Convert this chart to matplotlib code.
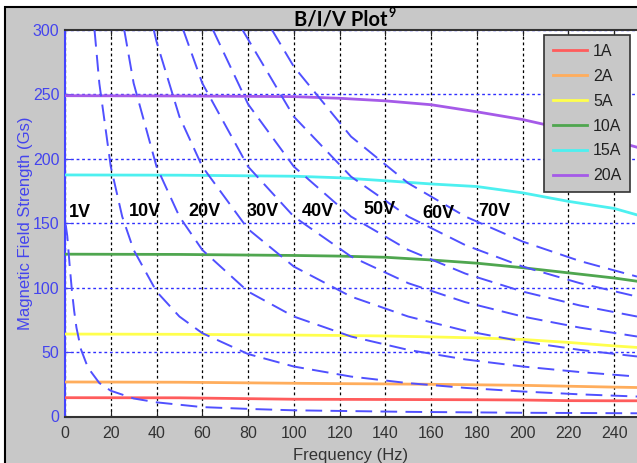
###############################################################################
# B/I/V plot: field strength vs frequency, constant current and voltage lines
###############################################################################

import matplotlib
matplotlib.use("Agg")
import matplotlib.pyplot as plt
from matplotlib.patches import Rectangle

# Data ------------------------------------------------------------------------

cur_labels = ["1A", "2A", "5A", "10A", "15A", "20A"]
cur_colors = ["#ff5c5c", "#ffad5c", "#ffff4d", "#4fa64f", "#4df0f0", "#a55ae8"]
cur_freq = [0, 50, 100, 120, 140, 160, 180, 200, 220, 240, 250]
b_1a = [14.6, 14.5, 13.4, 13.3, 13.2, 13.1, 13.0, 12.8, 12.3, 12.2, 12.2]
b_2a = [26.8, 26.6, 25.8, 25.5, 25.3, 25.0, 24.6, 24.2, 23.5, 22.8, 22.5]
b_5a = [64.0, 63.8, 63.2, 62.9, 62.5, 61.8, 61.0, 59.8, 57.5, 54.8, 53.6]
b_10a = [126.0, 125.8, 125.0, 124.5, 123.6, 121.5, 119.0, 115.5, 111.5, 107.5, 105.0]
b_15a = [187.5, 187.3, 186.5, 185.3, 183.0, 180.5, 178.5, 173.6, 167.0, 161.5, 156.5]
b_20a = [249.0, 248.8, 248.3, 247.0, 245.0, 242.0, 236.5, 230.5, 222.5, 214.0, 209.0]

v1_f = [0.3, 1, 2, 3, 4, 5, 7, 10, 15, 20, 30, 40, 60, 80, 100, 150, 200, 250]
v1_b = [149, 140, 118, 98, 82, 69, 52, 38, 26, 20, 14, 11, 7.3, 5.9, 4.8, 3.6, 2.9, 2.5]
v10_f = [12.9, 15, 20, 25, 30, 40, 50, 60, 80, 100, 125, 150, 175, 200, 225, 250]
v10_b = [300, 258.7, 194, 155.2, 129.3, 97, 77.6, 64.7, 48.5, 38.8, 31, 25.9, 22.2, 19.4, 17.2, 15.5]
v20_f = [25.9, 30, 40, 50, 60, 80, 100, 125, 150, 175, 200, 225, 250]
v20_b = [300, 258.7, 194, 155.2, 129.3, 97, 77.6, 62.1, 51.7, 44.3, 38.8, 34.5, 31.0]
v30_f = [38.8, 40, 50, 60, 80, 100, 125, 150, 175, 200, 225, 250]
v30_b = [300, 291, 232.8, 194, 145.5, 116.4, 93.1, 77.6, 66.5, 58.2, 51.7, 46.6]
v40_f = [51.7, 60, 80, 100, 125, 150, 175, 200, 225, 250]
v40_b = [300, 258.7, 194, 155.2, 124.2, 103.5, 88.7, 77.6, 69.0, 62.1]
v50_f = [64.7, 80, 100, 125, 150, 175, 200, 225, 250]
v50_b = [300, 242.5, 194, 155.2, 129.3, 110.9, 97, 86.2, 77.6]
v60_f = [77.6, 100, 125, 150, 175, 200, 225, 250]
v60_b = [300, 232.8, 186.2, 155.2, 133, 116.4, 103.5, 93.1]
v70_f = [90.5, 100, 125, 150, 175, 200, 225, 250]
v70_b = [300, 271.6, 217.3, 181.1, 155.2, 135.8, 120.7, 108.6]

v_labels = ["1V", "10V", "20V", "30V", "40V", "50V", "60V", "70V"]
v_label_f = [6.3, 34.8, 61.0, 86.2, 110.6, 137.6, 163.2, 187.5]
v_label_b = [158.0, 159.5, 159.5, 159.5, 159.5, 160.5, 157.5, 159.5]

# Figure ----------------------------------------------------------------------

W, H = 637, 463
plt.rcParams["font.family"] = ["Liberation Sans", "DejaVu Sans"]
plt.rcParams["lines.scale_dashes"] = False

fig = plt.figure(figsize=(W / 100, H / 100), dpi=100, facecolor="white")
bg = Rectangle((5 / W, -0.1), 1.2, 1.1 - 7 / H, transform=fig.transFigure,
               facecolor="#c8c8c8", edgecolor="black", lw=1.5, zorder=-10)
fig.patches.append(bg)

ax = fig.add_axes([65 / W, 1 - 416.5 / H, 572 / W, 386.5 / H])
ax.set_facecolor("white")

cur_series = [b_1a, b_2a, b_5a, b_10a, b_15a, b_20a]
handles = []
for b, c, lab in zip(cur_series, cur_colors, cur_labels):
    h, = ax.plot(cur_freq, b, color=c, lw=2.0, label=lab, zorder=3)
    handles.append(h)

dash_blue = "#5050ff"
volt_f = [v1_f, v10_f, v20_f, v30_f, v40_f, v50_f, v60_f, v70_f]
volt_b = [v1_b, v10_b, v20_b, v30_b, v40_b, v50_b, v60_b, v70_b]
for f, b in zip(volt_f, volt_b):
    ax.plot(f, b, color=dash_blue, lw=1.4, linestyle=(0, (12, 6)), zorder=4)

for lab, f, b in zip(v_labels, v_label_f, v_label_b):
    ax.text(f, b, lab, ha="center", va="center", fontsize=13, fontweight="bold",
            color="black", zorder=5)

ax.set_xlim(0, 250)
ax.set_ylim(0, 300)
ax.set_xticks(range(0, 241, 20))
ax.set_yticks(range(0, 301, 50))

ax.xaxis.grid(True, color="black", linestyle=(0, (2, 2)), lw=0.9)
ax.yaxis.grid(True, color="#2f2fff", linestyle=(0, (2, 2)), lw=1.0)
ax.set_axisbelow(True)

ax.tick_params(axis="x", direction="in", length=4, top=True, colors="#222222",
               labelsize=11.5, pad=7)
ax.tick_params(axis="y", direction="in", length=4, colors="#4444ee",
               labelsize=11.5, pad=4)
for lbl in ax.get_xticklabels():
    lbl.set_color("#333333")

ax.spines["right"].set_visible(False)
ax.spines["left"].set_color("#4444ff")
ax.spines["left"].set_linewidth(1.5)
ax.spines["bottom"].set_color("#333333")
ax.spines["bottom"].set_linewidth(1.5)
ax.spines["top"].set_color("#333333")
ax.spines["top"].set_linewidth(1.5)

ax.set_xlabel("Frequency (Hz)", fontsize=12, color="#333333", labelpad=5)
ax.set_ylabel("Magnetic Field Strength (Gs)", fontsize=12, color="#4444ee", labelpad=0)

leg = ax.legend(handles=handles, loc="upper right", bbox_to_anchor=(0.988, 0.987),
                borderaxespad=0, fontsize=11.5, frameon=True, fancybox=False,
                facecolor="#c8c8c8", edgecolor="#333333", framealpha=1,
                handlelength=2.1, handletextpad=0.4, labelspacing=0.62, borderpad=0.55)
leg.get_frame().set_linewidth(1.2)
leg.set_zorder(10)
for t in leg.get_texts():
    t.set_color("#222222")

title = fig.text(294 / W, 1 - 20 / H, "B/I/V Plot", fontsize=14.5, fontweight="bold",
                 family=["Lato", "DejaVu Sans"], ha="left", va="center")
fig.canvas.draw()
bb = title.get_window_extent(fig.canvas.get_renderer())
fig.text((bb.x1 + 1) / W, (bb.y1 - 3) / H, "9", fontsize=9, fontweight="bold",
         family=["Lato", "DejaVu Sans"], ha="left", va="center")

fig.savefig("out.png", dpi=100)
